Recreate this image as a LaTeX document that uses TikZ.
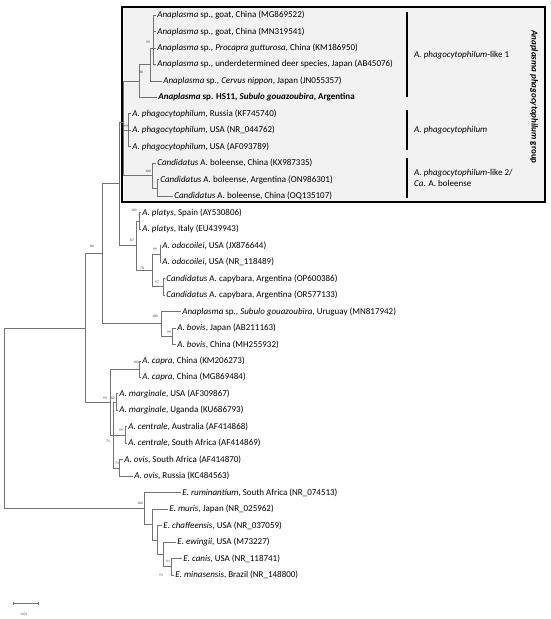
\documentclass[tikz,border=0pt]{standalone}
\usepackage{fontspec}
\setmainfont{Carlito}
\definecolor{treegray}{RGB}{115,115,115}
\definecolor{boxfill}{RGB}{242,242,242}
\begin{document}
\begin{tikzpicture}[x=1pt,y=-1pt,
  br/.style={draw=treegray,line width=0.7pt},
  leaf/.style={anchor=west,inner sep=1.2pt,font=\fontsize{9}{10}\selectfont},
  bs/.style={font=\fontsize{3.6}{4}\selectfont,text=black!75,inner sep=0pt},
  grpbox/.style={draw=black,fill=boxfill,line width=1.1pt},
  bracket/.style={draw=black,line width=1.1pt},
  clade/.style={anchor=west,inner sep=0pt,font=\fontsize{9}{10.5}\selectfont,align=left}]
\useasboundingbox (0,0) rectangle (550,619);
% group box
\draw[grpbox] (122,7) rectangle (545,202);
% leaves
\node[leaf] (L1) at (156,15.0) {\textit{Anaplasma} sp., goat, China (MG869522)};
\node[leaf] (L2) at (156,31.5) {\textit{Anaplasma} sp., goat, China (MN319541)};
\node[leaf] (L3) at (156,47.9) {\textit{Anaplasma} sp., \textit{Procapra gutturosa}, China (KM186950)};
\node[leaf] (L4) at (156,64.4) {\textit{Anaplasma} sp., underdetermined deer species, Japan (AB45076)};
\node[leaf] (L5) at (162,80.9) {\textit{Anaplasma} sp., \textit{Cervus nippon}, Japan (JN055357)};
\node[leaf] (L6) at (157,97.4) {\bfseries\textit{Anaplasma} sp. HS11, \textit{Subulo gouazoubira}, Argentina};
\node[leaf] (L7) at (131,113.8) {\textit{A. phagocytophilum}, Russia (KF745740)};
\node[leaf] (L8) at (131,130.3) {\textit{A. phagocytophilum}, USA (NR\_044762)};
\node[leaf] (L9) at (131,146.8) {\textit{A. phagocytophilum}, USA (AF093789)};
\node[leaf] (L10) at (156,163.2) {\textit{Candidatus} A. boleense, China (KX987335)};
\node[leaf] (L11) at (159,179.7) {\textit{Candidatus} A. boleense, Argentina (ON986301)};
\node[leaf] (L12) at (173,196.2) {\textit{Candidatus} A. boleense, China (OQ135107)};
\node[leaf] (L13) at (141,212.6) {\textit{A. platys}, Spain (AY530806)};
\node[leaf] (L14) at (141,229.1) {\textit{A. platys}, Italy (EU439943)};
\node[leaf] (L15) at (161,245.6) {\textit{A. odocoilei}, USA (JX876644)};
\node[leaf] (L16) at (161,262.1) {\textit{A. odocoilei}, USA (NR\_118489)};
\node[leaf] (L17) at (165,278.5) {\textit{Candidatus} A. capybara, Argentina (OP600386)};
\node[leaf] (L18) at (165,295.0) {\textit{Candidatus} A. capybara, Argentina (OR577133)};
\node[leaf] (L19) at (181,311.5) {\textit{Anaplasma} sp., \textit{Subulo gouazoubira}, Uruguay (MN817942)};
\node[leaf] (L20) at (176,327.9) {\textit{A. bovis}, Japan (AB211163)};
\node[leaf] (L21) at (176,344.4) {\textit{A. bovis}, China (MH255932)};
\node[leaf] (L22) at (141,360.9) {\textit{A. capra}, China (KM206273)};
\node[leaf] (L23) at (141,377.4) {\textit{A. capra}, China (MG869484)};
\node[leaf] (L24) at (118,393.8) {\textit{A. marginale}, USA (AF309867)};
\node[leaf] (L25) at (118,410.3) {\textit{A. marginale}, Uganda (KU686793)};
\node[leaf] (L26) at (127,426.8) {\textit{A. centrale}, Australia (AF414868)};
\node[leaf] (L27) at (127,443.2) {\textit{A. centrale}, South Africa (AF414869)};
\node[leaf] (L28) at (123,459.7) {\textit{A. ovis}, South Africa (AF414870)};
\node[leaf] (L29) at (133,476.2) {\textit{A. ovis}, Russia (KC484563)};
\node[leaf] (L30) at (181,492.6) {\textit{E. ruminantium}, South Africa (NR\_074513)};
\node[leaf] (L31) at (168,509.1) {\textit{E. muris}, Japan (NR\_025962)};
\node[leaf] (L32) at (162,525.6) {\textit{E. chaffeensis}, USA (NR\_037059)};
\node[leaf] (L33) at (176,542.1) {\textit{E. ewingii}, USA (M73227)};
\node[leaf] (L34) at (182,558.5) {\textit{E. canis}, USA (NR\_118741)};
\node[leaf] (L35) at (174,575.0) {\textit{E. minasensis}, Brazil (NR\_148800)};
% internal nodes
\coordinate (s14) at (153,47.9);
\coordinate (n95) at (150,64.4);
\coordinate (n88) at (139,80.9);
\coordinate (nPh) at (128,130.3);
\coordinate (nB2) at (157,188.0);
\coordinate (nBo) at (152,175.6);
\coordinate (nG) at (123,122.0);
\coordinate (nPl) at (139,220.9);
\coordinate (nOd) at (160,253.9);
\coordinate (nCa) at (163,286.8);
\coordinate (n78) at (152,270.3);
\coordinate (n87) at (136,245.6);
\coordinate (nX) at (119,183.8);
\coordinate (nBv) at (172,336.2);
\coordinate (nU) at (161,323.8);
\coordinate (nY) at (102,253.8);
\coordinate (nCp) at (139,369.1);
\coordinate (nMg) at (116,402.0);
\coordinate (nCe) at (125,435.0);
\coordinate (nOv) at (119,468.0);
\coordinate (nB) at (113,435.0);
\coordinate (nA) at (110,402.0);
\coordinate (n86) at (85,327.9);
\coordinate (nE4) at (171,566.8);
\coordinate (nE3) at (163,554.4);
\coordinate (nE2) at (157,540.0);
\coordinate (nE1) at (152,524.5);
\coordinate (nE) at (144,508.6);
\coordinate (root) at (4,418.0);
% branches
\foreach \p/\c in {s14/L1.west,s14/L2.west,s14/L3.west,s14/L4.west,
  n95/s14,n95/L5.west,n88/n95,n88/L6.west,
  nPh/L7.west,nPh/L8.west,nPh/L9.west,
  nB2/L11.west,nB2/L12.west,nBo/L10.west,nBo/nB2,
  nG/n88,nG/nPh,nG/nBo,
  nPl/L13.west,nPl/L14.west,nOd/L15.west,nOd/L16.west,
  nCa/L17.west,nCa/L18.west,n78/nOd,n78/nCa,n87/nPl,n87/n78,
  nX/nG,nX/n87,
  nBv/L20.west,nBv/L21.west,nU/L19.west,nU/nBv,nY/nX,nY/nU,
  nCp/L22.west,nCp/L23.west,nMg/L24.west,nMg/L25.west,
  nCe/L26.west,nCe/L27.west,nOv/L28.west,nOv/L29.west,
  nB/nMg,nB/nCe,nB/nOv,nA/nCp,nA/nB,n86/nY,n86/nA,
  nE4/L34.west,nE4/L35.west,nE3/L33.west,nE3/nE4,
  nE2/L32.west,nE2/nE3,nE1/L31.west,nE1/nE2,nE/L30.west,nE/nE1,
  root/n86,root/nE}
  \draw[br] (\p) |- (\c);
% bootstrap values
\node[bs] (b95) at (148,42) {95};
\node[bs] (b88) at (141,72) {88};
\node[bs] (b99a) at (126,126) {99};
\node[bs] (b100a) at (148,171) {100};
\node[bs] (b86) at (92,246) {86};
\node[bs] (b100b) at (134,210) {100};
\node[bs] (b87) at (132,240) {87};
\node[bs] (b99b) at (155,249) {99};
\node[bs] (b78) at (142,268) {78};
\node[bs] (b97) at (157,282) {97};
\node[bs] (b100c) at (155,316) {100};
\node[bs] (b99c) at (169,332) {99};
\node[bs] (b100d) at (136,362) {100};
\node[bs] (b99d) at (105,398) {99};
\node[bs] (b80) at (113,398) {80};
\node[bs] (b99e) at (121,430) {99};
\node[bs] (b75) at (108,441) {75};
\node[bs] (b73) at (117,463) {73};
\node[bs] (b100e) at (140,503) {100};
\node[bs] (b91a) at (168,561) {91};
\node[bs] (b91b) at (161,575) {91};
% clade brackets and labels
\coordinate (k1a) at (407,12); \coordinate (k1b) at (407,97);
\coordinate (k2a) at (407,110); \coordinate (k2b) at (407,150);
\coordinate (k3a) at (407,158); \coordinate (k3b) at (407,198);
\draw[bracket] (k1a) -- (k1b);
\draw[bracket] (k2a) -- (k2b);
\draw[bracket] (k3a) -- (k3b);
\node[clade] (c1) at (414,55) {\textit{A. phagocytophilum}-like 1};
\node[clade] (c2) at (414,130) {\textit{A. phagocytophilum}};
\node[clade] (c3) at (414,178) {\textit{A. phagocytophilum}-like 2/\\\textit{Ca.} A. boleense};
\node[rotate=-90,inner sep=0pt,font=\bfseries\fontsize{9}{10}\selectfont] (grp) at (534,97) {\textit{Anaplasma phagocytophilum} group};
% scale bar
\coordinate (sb1) at (13,603); \coordinate (sb2) at (38,603);
\draw[br] (sb1) -- (sb2);
\draw[br] ([yshift=-1.5pt]sb1) -- ([yshift=1.5pt]sb1);
\draw[br] ([yshift=-1.5pt]sb2) -- ([yshift=1.5pt]sb2);
\node[bs] (sbl) at (24,614) {0.01};
\end{tikzpicture}
\end{document}
